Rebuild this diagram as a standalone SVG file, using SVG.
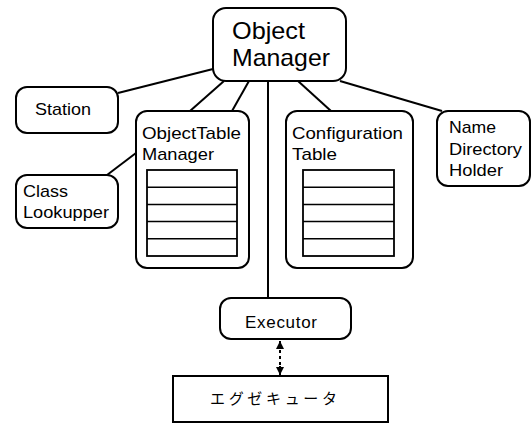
<svg xmlns="http://www.w3.org/2000/svg" width="532" height="423" viewBox="0 0 532 423">
  <defs>
    <style>
      .box { fill: #fff; stroke: #000; stroke-width: 2; }
      .tbl { fill: #fff; stroke: #000; stroke-width: 1.8; }
      .row { stroke: #000; stroke-width: 1.5; }
      .lbl { font-family: "Liberation Sans", Arial, sans-serif; font-size: 17px; fill: #000; }
      .big { font-family: "Liberation Sans", Arial, sans-serif; font-size: 24px; fill: #000; }
      .jp { font-family: "Noto Sans CJK JP", "Liberation Sans", sans-serif; font-size: 15px; fill: #000; }
      .link { stroke: #000; stroke-width: 2; fill: none; }
    </style>
    <marker id="tip" viewBox="0 0 8 10" refX="8" refY="5" markerWidth="8" markerHeight="10" markerUnits="userSpaceOnUse" orient="auto-start-reverse">
      <path d="M0,1 L8,5 L0,9 Z" fill="#000"/>
    </marker>
  </defs>

  <!-- connectors -->
  <g id="connectors">
    <line class="link" x1="118" y1="93" x2="213" y2="69"/>
    <line class="link" x1="224" y1="81" x2="190" y2="111"/>
    <line class="link" x1="249" y1="81" x2="232" y2="111"/>
    <line class="link" x1="268" y1="81" x2="268" y2="298"/>
    <line class="link" x1="298" y1="81" x2="331" y2="111"/>
    <line class="link" x1="340" y1="81" x2="442" y2="111"/>
    <line class="link" x1="107" y1="175" x2="136" y2="153"/>
    <line x1="280" y1="350" x2="280" y2="366" stroke="#000" stroke-width="2" stroke-dasharray="3 3"/>
    <line x1="280" y1="349" x2="280" y2="341" stroke="#000" stroke-width="2" marker-end="url(#tip)"/>
    <line x1="280" y1="366" x2="280" y2="375" stroke="#000" stroke-width="2" marker-end="url(#tip)"/>
  </g>

  <g id="object-manager">
    <rect class="box" x="213" y="8" width="133" height="73" rx="13"/>
    <text class="big" x="232" y="39" textLength="73" lengthAdjust="spacingAndGlyphs">Object</text>
    <text class="big" x="232" y="66" textLength="98" lengthAdjust="spacingAndGlyphs">Manager</text>
  </g>

  <g id="station">
    <rect class="box" x="16" y="87" width="102" height="46" rx="11"/>
    <text class="lbl" x="35" y="115" textLength="56" lengthAdjust="spacingAndGlyphs">Station</text>
  </g>

  <g id="object-table-manager">
    <rect class="box" x="136" y="111" width="113" height="157" rx="11"/>
    <text class="lbl" x="142" y="139" textLength="99" lengthAdjust="spacingAndGlyphs">ObjectTable</text>
    <text class="lbl" x="142" y="160" textLength="72" lengthAdjust="spacingAndGlyphs">Manager</text>
    <rect class="tbl" x="147" y="170" width="90" height="86"/>
    <line class="row" x1="147" y1="187.2" x2="237" y2="187.2"/>
    <line class="row" x1="147" y1="204.4" x2="237" y2="204.4"/>
    <line class="row" x1="147" y1="221.6" x2="237" y2="221.6"/>
    <line class="row" x1="147" y1="238.8" x2="237" y2="238.8"/>
  </g>

  <g id="configuration-table">
    <rect class="box" x="286" y="111" width="127" height="157" rx="11"/>
    <text class="lbl" x="292" y="139" textLength="111" lengthAdjust="spacingAndGlyphs">Configuration</text>
    <text class="lbl" x="292" y="160" textLength="45" lengthAdjust="spacingAndGlyphs">Table</text>
    <rect class="tbl" x="303" y="170" width="91" height="86"/>
    <line class="row" x1="303" y1="187.2" x2="394" y2="187.2"/>
    <line class="row" x1="303" y1="204.4" x2="394" y2="204.4"/>
    <line class="row" x1="303" y1="221.6" x2="394" y2="221.6"/>
    <line class="row" x1="303" y1="238.8" x2="394" y2="238.8"/>
  </g>

  <g id="name-directory-holder">
    <rect class="box" x="437" y="111" width="93" height="75" rx="11"/>
    <text class="lbl" x="449" y="133" textLength="47" lengthAdjust="spacingAndGlyphs">Name</text>
    <text class="lbl" x="449" y="155" textLength="73" lengthAdjust="spacingAndGlyphs">Directory</text>
    <text class="lbl" x="449" y="176" textLength="54" lengthAdjust="spacingAndGlyphs">Holder</text>
  </g>

  <g id="class-lookupper">
    <rect class="box" x="16" y="175" width="102" height="53" rx="11"/>
    <text class="lbl" x="23" y="197" textLength="45" lengthAdjust="spacingAndGlyphs">Class</text>
    <text class="lbl" x="23" y="218" textLength="86" lengthAdjust="spacingAndGlyphs">Lookupper</text>
  </g>

  <g id="executor">
    <rect class="box" x="220" y="298" width="131" height="41" rx="11"/>
    <text class="lbl" x="245" y="328" textLength="72">Executor</text>
  </g>

  <g id="executor-jp">
    <rect class="box" x="173" y="376" width="215" height="46"/>
    <text class="jp" x="210" y="404" textLength="127">エグゼキュータ</text>
  </g>
</svg>
